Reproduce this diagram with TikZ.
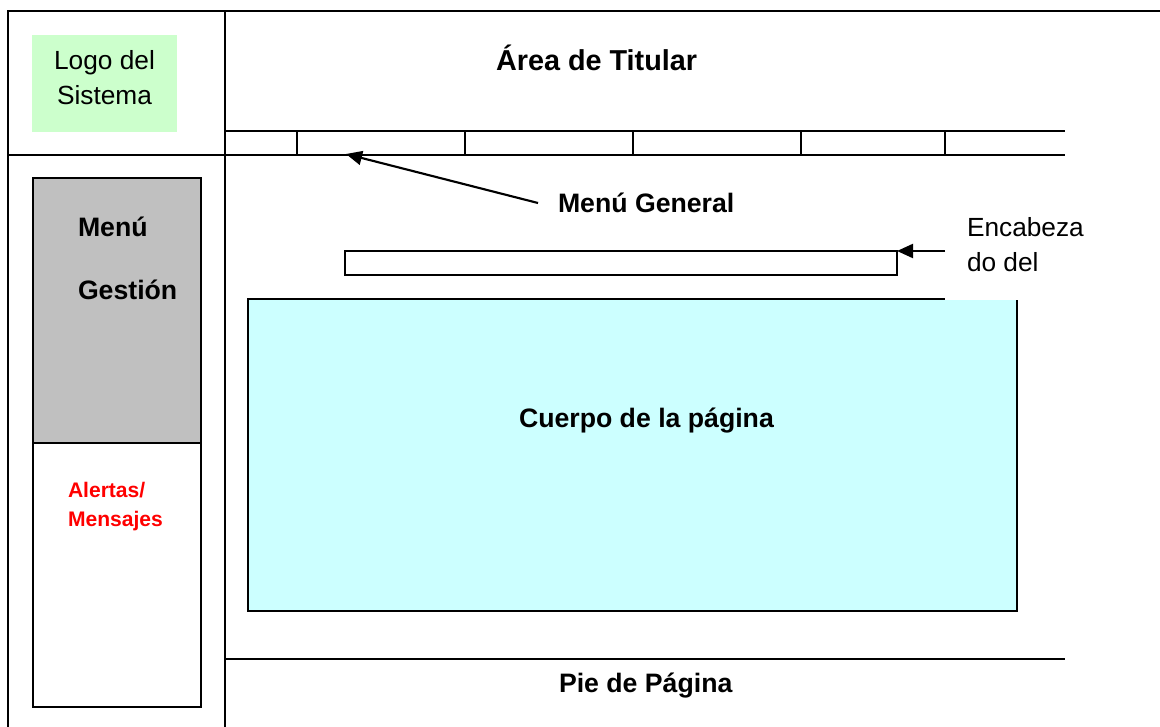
\documentclass[tikz,border=0pt]{standalone}
\usepackage{fontspec}
\setmainfont{Liberation Sans}
\usetikzlibrary{arrows.meta}
\definecolor{logogreen}{HTML}{CCFFCC}
\definecolor{bodycyan}{HTML}{CCFFFF}
\definecolor{menugray}{HTML}{C0C0C0}
\definecolor{alertred}{HTML}{FF0000}
\begin{document}
\begin{tikzpicture}[x=0.75pt,y=-0.75pt,line width=1.5pt,
  boldlbl/.style={inner sep=0pt,anchor=base west,font=\fontsize{20pt}{24pt}\selectfont\bfseries},
  titlelbl/.style={inner sep=0pt,anchor=base west,font=\fontsize{21.6pt}{26pt}\selectfont\bfseries},
  plainlbl/.style={inner sep=0pt,font=\fontsize{19.7pt}{24pt}\selectfont},
  alertlbl/.style={inner sep=0pt,anchor=base west,text=alertred,font=\fontsize{15.8pt}{19pt}\selectfont\bfseries},
  arr/.style={-{Triangle[length=12pt,width=10.5pt]},line width=1.6pt}]
\useasboundingbox (0,0) rectangle (1160,727);
% frame
\draw (1160,11) -- (8,11) -- (8,727);
\draw (225,11) -- (225,727);
\draw (8,155) -- (1065,155);
\draw (225,131) -- (1065,131);
\foreach \x in {297,465,633,801,945} \draw (\x,131) -- (\x,155);
\draw (225,659) -- (1065,659);
% logo
\fill[logogreen] (32,35) rectangle (177,132);
\node[plainlbl,anchor=base] (logo1) at (104.5,70) {Logo del};
\node[plainlbl,anchor=base] (logo2) at (104.5,105) {Sistema};
% title
\node[titlelbl] (title) at (495,71) {Área de Titular};
% side menu
\draw[fill=menugray] (33,178) rectangle (201,443);
\draw (33,443) rectangle (201,707);
\node[boldlbl] (menu1) at (77,237) {Menú};
\node[boldlbl] (menu2) at (77,300) {Gestión};
\node[alertlbl] (alert1) at (67,497) {Alertas/};
\node[alertlbl] (alert2) at (67,526) {Mensajes};
% body
\draw[fill=bodycyan] (248,299) rectangle (1017,611);
\fill[white] (945,210) rectangle (1100,300.3);
\node[boldlbl] (body) at (518,427) {Cuerpo de la página};
% header bar
\draw (345,251) rectangle (897,275);
\coordinate (enctip) at (897,251);
\coordinate (enctail) at (945,251);
\draw[arr] (enctail) -- (enctip);
\node[plainlbl,anchor=base west] (enc1) at (966,237) {Encabeza};
\node[plainlbl,anchor=base west] (enc2) at (966,272) {do del};
% menu general
\node[boldlbl] (mgen) at (557,213) {Menú General};
\coordinate (mgtip) at (346,154);
\coordinate (mgtail) at (538,203);
\draw[arr] (mgtail) -- (mgtip);
% footer
\node[boldlbl] (foot) at (558,692) {Pie de Página};
\end{tikzpicture}
\end{document}
